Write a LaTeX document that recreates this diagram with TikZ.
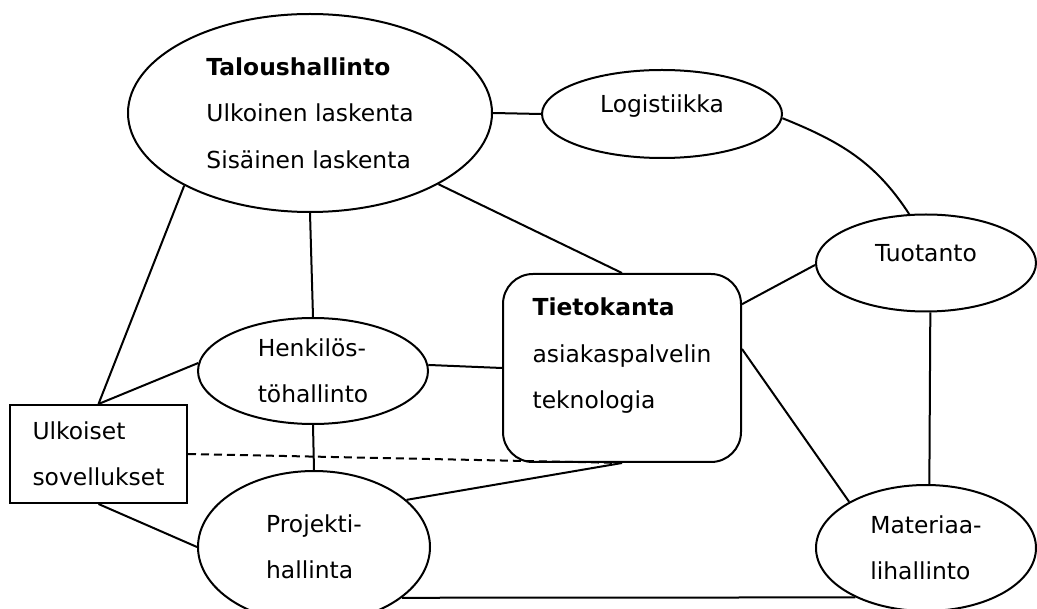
\documentclass[tikz,border=0pt]{standalone}
\usepackage{fontspec}
\setmainfont{DejaVu Sans}
\usetikzlibrary{shapes.geometric}

\begin{document}
\begin{tikzpicture}[x=1pt,y=1pt,line width=2pt,
    every node/.style={font=\fontsize{23.4}{46.5}\selectfont,inner sep=0pt}]
		\useasboundingbox (0,0) rectangle (1037,-609);
		\clip (0,0) rectangle (1037,-609);

		\begin{scope}[every node/.append style={ellipse,draw}]
			\node[minimum width=364,minimum height=198,align=left] (talous) at (310,-113) {\textbf{Taloushallinto}\\Ulkoinen laskenta\\Sisäinen laskenta};
			\node[minimum width=240,minimum height=88,text depth=20pt] (logist) at (662,-114) {Logistiikka};
			\node[minimum width=220,minimum height=97,text depth=20pt] (tuot) at (926,-263) {Tuotanto};
			\node[minimum width=230,minimum height=106,align=left] (henk) at (313,-371) {Henkilös-\\töhallinto};
			\node[minimum width=232,minimum height=152,align=left] (proj) at (314,-547) {Projekti-\\hallinta};
			\node[minimum width=220,minimum height=126,align=left] (mat) at (926,-548) {Materiaa-\\lihallinto};
		\end{scope}

		\begin{scope}[every node/.append style={rectangle,draw,align=left}]
			\node[minimum width=177,minimum height=98] (ulk) at (98.5,-454) {Ulkoiset\\sovellukset};
			\node[minimum width=238,minimum height=188,rounded corners=30pt,
			  label={[draw=none,align=left,yshift=12pt]center:{\textbf{Tietokanta}\\asiakaspalvelin\\teknologia}}] (tiet) at (622,-368) {};
		\end{scope}

		\begin{scope}
			\path (talous.east) edge (logist.west);
			\path (talous.210) edge (ulk.north);
			\path (talous.south) edge (henk.north);
			\path (talous.-29) edge (tiet.north);
			\path (logist.-2) edge[out=-22,in=123] (tuot.109);
			\path (tuot.181) edge (tiet.28);
			\path (tuot.-85) edge (mat.87);
			\path (henk.176) edge (ulk.north);
			\path (henk.3) edge (tiet.west);
			\path (henk.south) edge (proj.north);
			\path (ulk.south) edge (proj.west);
			\path (ulk.east) edge[dash pattern=on 8pt off 5pt] (tiet.south);
			\path (proj.27) edge (tiet.south);
			\path (proj.-30) edge (mat.215);
			\path (tiet.9) edge (mat.149);
		\end{scope}
	\end{tikzpicture}
\end{document}
